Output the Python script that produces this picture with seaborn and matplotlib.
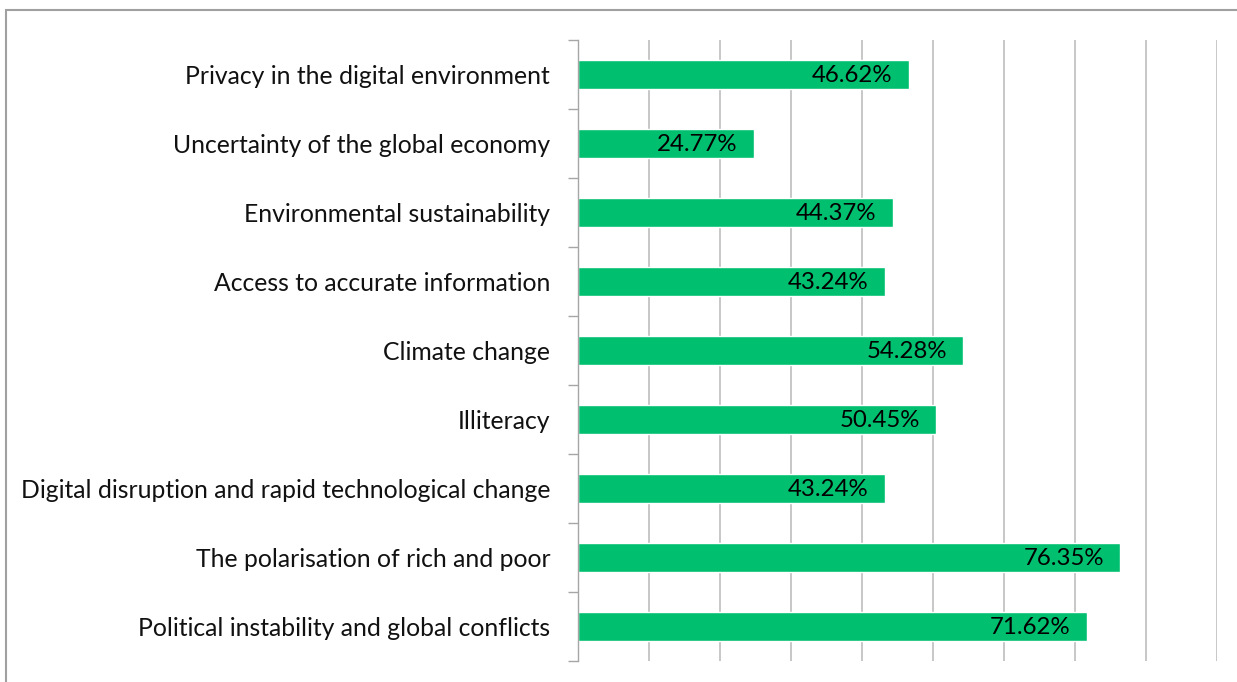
import numpy as np
import pandas as pd
import seaborn as sns
import matplotlib.pyplot as plt
from matplotlib.patches import Rectangle

# Chart data (top to bottom)
categories = [
    "Privacy in the digital environment",
    "Uncertainty of the global economy",
    "Environmental sustainability",
    "Access to accurate information",
    "Climate change",
    "Illiteracy",
    "Digital disruption and rapid technological change",
    "The polarisation of rich and poor",
    "Political instability and global conflicts",
]
shares = [46.62, 24.77, 44.37, 43.24, 54.28, 50.45, 43.24, 76.35, 71.62]

df = pd.DataFrame({"issue": categories, "share": shares})

sns.set_style("white")
plt.rcParams["font.family"] = ["Lato", "DejaVu Sans"]

fig = plt.figure(figsize=(12.37, 6.82), dpi=100)
ax = fig.add_axes([578 / 1237, 1 - 661 / 682, (1217 - 578) / 1237, (661 - 40) / 682])

sns.barplot(data=df, x="share", y="issue", orient="h", color="#00C070",
            saturation=1, width=0.42, ax=ax)

ax.set_xlim(0, 90)
ax.set_ylim(len(categories) - 0.5, -0.5)
ax.set_xticks(np.arange(0, 91, 10))
ax.set_xticklabels([])
ax.tick_params(axis="x", length=0)
ax.grid(axis="x", color="#BDBDBD", linewidth=1.2)
ax.set_axisbelow(True)

# category labels, with tick marks between categories
ax.set_yticks(range(len(categories)))
ax.set_yticklabels(categories, fontsize=17.8, color="#111111")
ax.tick_params(axis="y", which="major", left=False, length=0, pad=20)
ax.set_yticks(np.arange(-0.5, len(categories), 1), minor=True)
ax.tick_params(axis="y", which="minor", left=True, length=7, color="#A6A6A6", width=1)

for s in ["top", "right", "bottom"]:
    ax.spines[s].set_visible(False)
ax.spines["left"].set_color("#A6A6A6")
ax.spines["left"].set_linewidth(1)
ax.set_xlabel("")
ax.set_ylabel("")

# value labels inside the bar end
for i, v in enumerate(shares):
    ax.text(v - 2.3, i + 0.02, f"{v:.2f}%", ha="right", va="center",
            fontsize=17.3, color="black")

# outer chart frame (top and left edges visible)
fig.patches.append(Rectangle((6 / 1237, -0.1), 1.2, 1 - 10 / 682 + 0.1,
                             transform=fig.transFigure, fill=False,
                             edgecolor="#A0A0A0", linewidth=1.5))

fig.savefig("out.png", dpi=100)
